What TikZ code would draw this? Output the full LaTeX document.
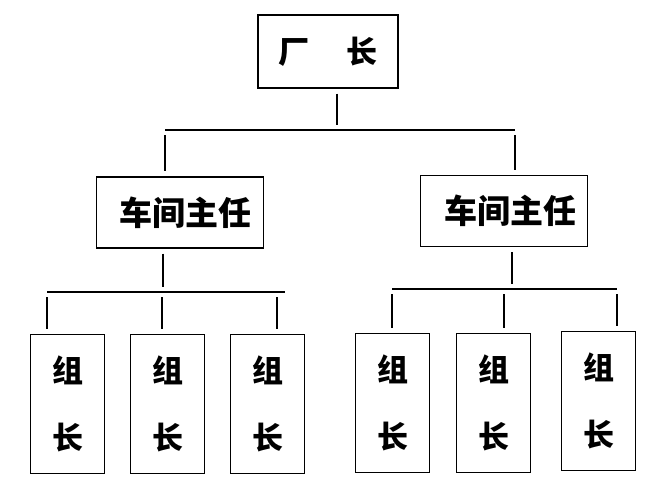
\documentclass[tikz,border=0pt]{standalone}
\usepackage{fontspec}
\newfontfamily\cjk{Noto Sans CJK SC}
\begin{document}
\begin{tikzpicture}[x=1pt,y=-1pt,
  line width=1.3pt,
  box/.style={draw, inner sep=0pt, anchor=center},
  topbox/.style={box, minimum width=140pt, minimum height=73pt, font=\cjk\bfseries\fontsize{31}{31}\selectfont},
  midbox/.style={box, minimum width=167pt, minimum height=71pt, font=\cjk\bfseries\fontsize{33}{33}\selectfont},
  leafbox/.style={box, minimum width=74pt, minimum height=139pt, align=center, font=\cjk\bfseries\fontsize{31}{67}\selectfont},
  link/.style={shorten <=5pt, shorten >=5pt}
]
\useasboundingbox (0,0) rectangle (648,483);

% nodes
\node[topbox] (fz) at (328,51.5) {厂\hspace{38pt}长};
\node[midbox] (cjA) at (180,212.5) {\hspace{10pt}车间主任};
\node[midbox] (cjB) at (504,211) {\hspace{12pt}车间主任};

\node[leafbox] (z1) at (67.5,404) {组\\长};
\node[leafbox] (z2) at (167.5,404) {组\\长};
\node[leafbox] (z3) at (267.5,404) {组\\长};
\node[leafbox] (z4) at (392.5,403) {组\\长};
\node[leafbox] (z5) at (493.5,403) {组\\长};
\node[leafbox] (z6) at (598.5,401) {组\\长};

% top level connectors
\coordinate (t0) at (337,130);
\coordinate (tL) at (165,130);
\coordinate (tR) at (515,130);
\draw[link] (fz.south -| t0) -- (t0);
\draw (tL) -- (tR);
\draw[link] (tL) -- (tL |- cjA.north);
\draw[link] (tR) -- (tR |- cjB.north);

% left group
\coordinate (a0) at (163,292);
\coordinate (a1) at (47,292);
\coordinate (a2) at (162,292);
\coordinate (a3) at (277,292);
\coordinate (aE) at (285,292);
\draw[link] (cjA.south -| a0) -- (a0);
\draw (a1) -- (aE);
\draw[link] (a1) -- (a1 |- z1.north);
\draw[link] (a2) -- (a2 |- z2.north);
\draw[link] (a3) -- (a3 |- z3.north);

% right group
\coordinate (b0) at (512,289);
\coordinate (b1) at (392,289);
\coordinate (b2) at (504,289);
\coordinate (b3) at (617,289);
\draw[link] (cjB.south -| b0) -- (b0);
\draw (b1) -- (b3);
\draw[link] (b1) -- (b1 |- z4.north);
\draw[link] (b2) -- (b2 |- z5.north);
\draw[link] (b3) -- (b3 |- z6.north);
\end{tikzpicture}
\end{document}
